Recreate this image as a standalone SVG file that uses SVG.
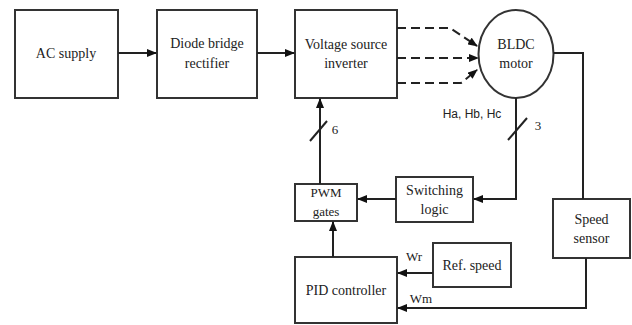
<svg xmlns="http://www.w3.org/2000/svg" width="632" height="325" viewBox="0 0 632 325">
<defs>
<marker id="ah" markerWidth="10" markerHeight="8" refX="9" refY="4" orient="auto" markerUnits="userSpaceOnUse">
<path d="M0,0 L10,4 L0,8 Z" fill="#111"/>
</marker>
<style>
.box{fill:#fff;stroke:#333;stroke-width:2}
.ln{fill:none;stroke:#222;stroke-width:2}
.dl{fill:none;stroke:#222;stroke-width:2;stroke-dasharray:9,5}
text{font-family:"Liberation Serif","Times New Roman",serif;font-size:14px;fill:#222;text-anchor:middle}
.sm{font-family:"Liberation Sans",Arial,sans-serif;font-size:11px}
</style>
</defs>
<rect width="632" height="325" fill="#fff"/>
<g id="ac"><rect class="box" x="15" y="10" width="103" height="88"/><text x="66" y="58">AC supply</text></g>
<g id="diode"><rect class="box" x="157" y="10" width="100" height="88"/><text x="207" y="48">Diode bridge</text><text x="207" y="68">rectifier</text></g>
<g id="vsi"><rect class="box" x="295" y="10" width="102" height="88"/><text x="346" y="49">Voltage source</text><text x="346" y="68">inverter</text></g>
<g id="bldc"><ellipse class="box" cx="516" cy="54" rx="37.5" ry="44"/><text x="516" y="49">BLDC</text><text x="516" y="68">motor</text></g>
<g id="pwm"><rect class="box" x="295" y="184" width="62" height="37"/><text x="326" y="197" style="font-size:13px">PWM</text><text x="326" y="216" style="font-size:13px">gates</text></g>
<g id="switch"><rect class="box" x="396" y="177" width="77" height="45"/><text x="434.5" y="195">Switching</text><text x="434.5" y="214">logic</text></g>
<g id="speed"><rect class="box" x="553" y="199" width="77" height="59"/><text x="591.5" y="224">Speed</text><text x="591.5" y="243">sensor</text></g>
<g id="ref"><rect class="box" x="433" y="243" width="78" height="44"/><text x="472" y="270">Ref. speed</text></g>
<g id="pid"><rect class="box" x="295" y="257" width="102" height="66"/><text x="346" y="295">PID controller</text></g>
<g id="connectors">
<line class="ln" x1="118" y1="53" x2="156" y2="53" marker-end="url(#ah)"/>
<line class="ln" x1="257" y1="53" x2="294" y2="53" marker-end="url(#ah)"/>
<polyline class="dl" points="397,28 450,28 477,46" marker-end="url(#ah)"/>
<line class="dl" x1="397" y1="58" x2="478" y2="58" marker-end="url(#ah)"/>
<polyline class="dl" points="397,83 461,83 477,70" marker-end="url(#ah)"/>
<polyline class="ln" points="553.5,53 583,53 583,199"/>
<polyline class="ln" points="586,258 586,308 398,308" marker-end="url(#ah)"/>
<line class="ln" x1="433" y1="273" x2="398" y2="273" marker-end="url(#ah)"/>
<polyline class="ln" points="516,98 516,199 474,199" marker-end="url(#ah)"/>
<line class="ln" x1="396" y1="199" x2="358" y2="199" marker-end="url(#ah)"/>
<line class="ln" x1="333" y1="257" x2="333" y2="222" marker-end="url(#ah)"/>
<line class="ln" x1="320" y1="184" x2="320" y2="99" marker-end="url(#ah)"/>
<line class="ln" x1="310" y1="141" x2="327" y2="121" stroke-width="1.5"/>
<line class="ln" x1="508" y1="140" x2="527" y2="118" stroke-width="1.5"/>
<text x="335" y="134" style="font-size:13px">6</text>
<text x="538" y="130" style="font-size:13px">3</text>
<text x="472" y="118" class="sm" style="font-size:12px">Ha, Hb, Hc</text>
<text x="414" y="261" style="font-size:13px">Wr</text>
<text x="421" y="303" style="font-size:13px">Wm</text>
</g>
</svg>
